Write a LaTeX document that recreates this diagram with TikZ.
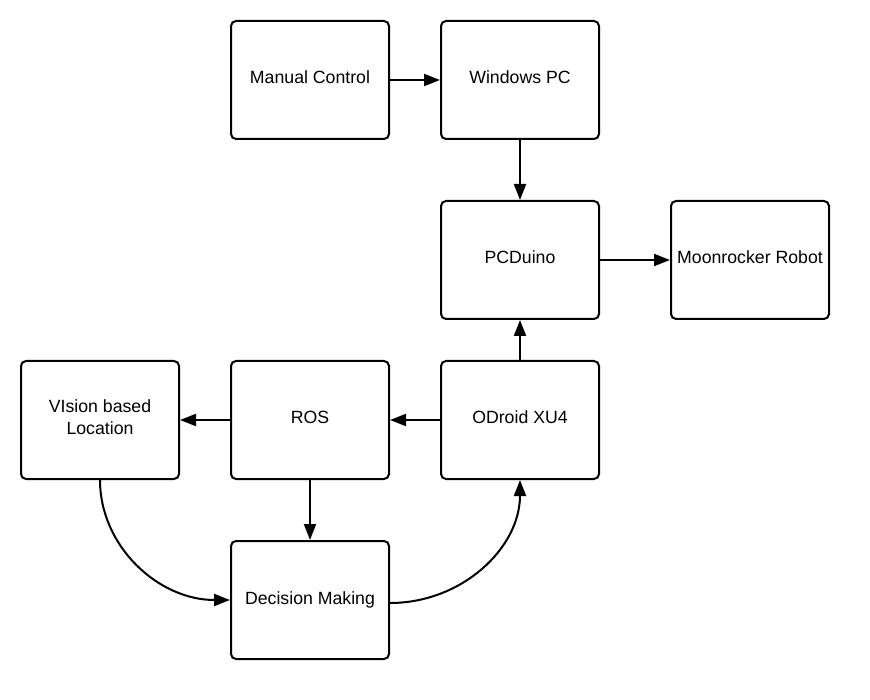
\documentclass[tikz,border=0pt]{standalone}
\usepackage{fontspec}
\setmainfont{Liberation Sans}
\usetikzlibrary{arrows.meta}
\begin{document}
\begin{tikzpicture}[x=1pt,y=-1pt,
  blockbox/.style={draw=black, line width=2pt, rounded corners=5pt,
    minimum width=158pt, minimum height=118pt, inner sep=0pt,
    font=\fontsize{17.7}{21.5}\selectfont, text height=13pt, text depth=5pt, align=center},
  conn/.style={line width=2pt, -{Triangle[length=16pt,width=12pt]}}]
\fill[white] (0,0) rectangle (870,700);
\useasboundingbox (0,0) rectangle (870,700);
\node[blockbox] (mc) at (310,80) {Manual Control};
\node[blockbox] (wpc) at (520,80) {Windows PC};
\node[blockbox] (pcd) at (520,260) {PCDuino};
\node[blockbox] (moon) at (750,260) {Moonrocker Robot};
\node[blockbox, text height=34pt, text depth=6pt] (vis) at (100,420) {VIsion based\\Location};
\node[blockbox] (ros) at (310,420) {ROS};
\node[blockbox] (odr) at (520,420) {ODroid XU4};
\node[blockbox] (dm) at (310,600) {Decision Making};
\draw[conn] (mc.east) -- (wpc.west);
\draw[conn] (wpc.south) -- (pcd.north);
\draw[conn] (pcd.east) -- (moon.west);
\draw[conn] (odr.north) -- (pcd.south);
\draw[conn] (odr.west) -- (ros.east);
\draw[conn] (ros.west) -- (vis.east);
\draw[conn] (ros.south) -- (dm.north);
\draw[conn] (vis.south) .. controls +(0,66) and +(-72,0) .. (dm.west);
\draw[conn] ([yshift=-3pt]dm.east) .. controls +(72,0) and +(0,68) .. (odr.south);
\end{tikzpicture}
\end{document}
